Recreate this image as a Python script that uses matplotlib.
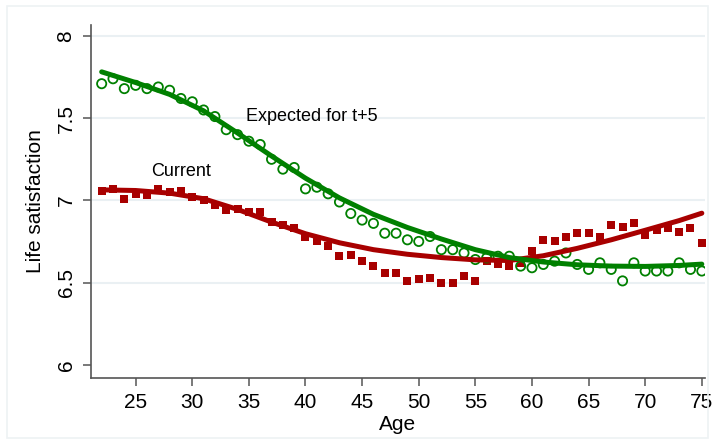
import matplotlib.pyplot as plt
from matplotlib.patches import Rectangle

plt.rcParams['font.family'] = ['Liberation Sans', 'DejaVu Sans']

# ages 22..75
age = [22, 23, 24, 25, 26, 27, 28, 29, 30, 31, 32, 33, 34, 35, 36, 37, 38, 39,
       40, 41, 42, 43, 44, 45, 46, 47, 48, 49, 50, 51, 52, 53, 54, 55, 56, 57,
       58, 59, 60, 61, 62, 63, 64, 65, 66, 67, 68, 69, 70, 71, 72, 73, 74, 75]

# current life satisfaction (red squares)
current = [7.06, 7.07, 7.01, 7.04, 7.03, 7.07, 7.05, 7.06, 7.02, 7.00, 6.97, 6.94,
           6.95, 6.93, 6.93, 6.87, 6.85, 6.83, 6.78, 6.75, 6.72, 6.66, 6.67, 6.63,
           6.60, 6.56, 6.56, 6.51, 6.52, 6.53, 6.50, 6.50, 6.54, 6.51, 6.63, 6.61,
           6.60, 6.62, 6.69, 6.76, 6.75, 6.78, 6.80, 6.80, 6.78, 6.85, 6.84, 6.86,
           6.79, 6.82, 6.83, 6.81, 6.83, 6.74]

# expected life satisfaction in 5 years (green circles)
expected = [7.71, 7.74, 7.68, 7.70, 7.68, 7.69, 7.67, 7.62, 7.60, 7.55, 7.51, 7.43,
            7.40, 7.36, 7.34, 7.25, 7.19, 7.20, 7.07, 7.08, 7.04, 6.99, 6.92, 6.88,
            6.86, 6.80, 6.80, 6.76, 6.75, 6.78, 6.70, 6.70, 6.68, 6.64, 6.65, 6.66,
            6.66, 6.60, 6.59, 6.61, 6.63, 6.68, 6.61, 6.58, 6.62, 6.58, 6.51, 6.62,
            6.57, 6.57, 6.57, 6.62, 6.58, 6.57]

# fitted curves
fit_age = [22, 25, 28, 31, 34, 37, 40, 43, 46, 49, 52, 55, 58, 61, 64, 67, 70, 73, 75]
fit_current = [7.064, 7.060, 7.044, 7.010, 6.945, 6.868, 6.797, 6.742, 6.700, 6.672,
               6.652, 6.638, 6.634, 6.663, 6.708, 6.760, 6.818, 6.877, 6.922]
fit_expected = [7.782, 7.717, 7.645, 7.545, 7.410, 7.270, 7.135, 7.015, 6.915, 6.835,
                6.765, 6.700, 6.652, 6.625, 6.608, 6.600, 6.598, 6.604, 6.612]

red = '#a80000'
green = '#008000'

fig = plt.figure(figsize=(7.15, 4.44), dpi=100)
ax = fig.add_axes([0.127, 0.149, 0.859, 0.795])

# light outer frame like the graph region
fig.patches.append(Rectangle((7 / 715, 6 / 444), 701 / 715, 432 / 444,
                             transform=fig.transFigure, fill=False,
                             edgecolor='#eef2f4', lw=1.2))

ax.scatter(age, current, marker='s', s=30, color=red, lw=0, zorder=3)
ax.scatter(age, expected, marker='o', s=44, facecolors='none',
           edgecolors=green, linewidths=1.3, zorder=3)

ax.plot(fit_age, fit_current, color=red, lw=3.6,
        solid_capstyle='round', solid_joinstyle='round', zorder=4)
ax.plot(fit_age, fit_expected, color=green, lw=3.6,
        solid_capstyle='round', solid_joinstyle='round', zorder=5)

ax.text(34.73, 7.484, 'Expected for t+5', fontsize=13, va='baseline')
ax.text(26.35, 7.149, 'Current', fontsize=13, va='baseline')

ax.set_xlim(21.04, 75.28)
ax.set_ylim(5.92, 8.068)
ax.set_xticks([25, 30, 35, 40, 45, 50, 55, 60, 65, 70, 75])
ax.set_yticks([6, 6.5, 7, 7.5, 8])
ax.set_yticklabels(['6', '6.5', '7', '7.5', '8'], rotation=90, va='center')
for y in [6.5, 7, 7.5, 8]:
    ax.axhline(y, color='#eaf0f3', lw=1.5, zorder=0)

for s in ['top', 'right']:
    ax.spines[s].set_visible(False)
for s in ['left', 'bottom']:
    ax.spines[s].set_color('#555555')
    ax.spines[s].set_linewidth(1.2)
ax.tick_params(length=6, width=1.1, color='#555555', labelsize=15, pad=5)

ax.set_xlabel('Age', fontsize=15, labelpad=2)
ax.set_ylabel('Life satisfaction', fontsize=15, labelpad=8)

fig.savefig('out.png', dpi=100)
